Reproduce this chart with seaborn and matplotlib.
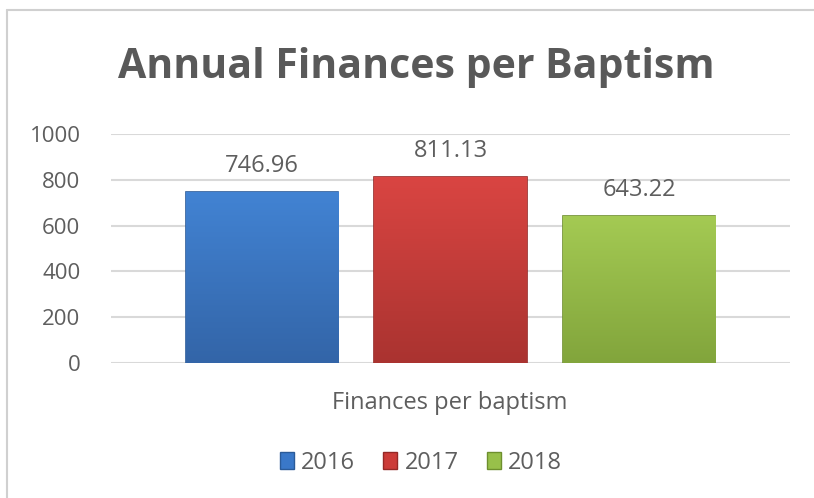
import matplotlib
matplotlib.use("Agg")
import matplotlib.pyplot as plt
import seaborn as sns
import pandas as pd
import numpy as np
from matplotlib.lines import Line2D
from matplotlib.colors import LinearSegmentedColormap

categories = ["Finances per baptism"]
years = ["2016", "2017", "2018"]
values = [746.96, 811.13, 643.22]
colors = ["#3A78C9", "#CC3B38", "#98C04A"]
top_colors = ["#4283D3", "#D94542", "#A4CA53"]
bottom_colors = ["#3365A8", "#AA3330", "#82A53C"]
edge_colors = ["#2B5B99", "#952826", "#6E8F2E"]
yticks = [0, 200, 400, 600, 800, 1000]

df = pd.DataFrame({"category": categories * len(years), "year": years, "value": values})

sns.set_theme(style="white")
plt.rcParams["font.family"] = ["Open Sans", "DejaVu Sans"]
grey = "#5E5E5E"

fig = plt.figure(figsize=(8.14, 4.98), dpi=100)
ax = fig.add_axes([111/814, 1-363/498, (790-111)/814, (363-134)/498])

sns.barplot(data=df, x="category", y="value", hue="year", palette=colors,
            width=0.833, gap=0.19, ax=ax, legend=True, saturation=1)

grad = np.linspace(1, 0, 100).reshape(-1, 1)
for p, ec, tc, bc in zip(ax.patches, edge_colors, top_colors, bottom_colors):
    p.set_edgecolor(ec)
    p.set_linewidth(1.2)
    x0, y0 = p.get_x(), p.get_y()
    w, h = p.get_width(), p.get_height()
    cmap = LinearSegmentedColormap.from_list("g", [bc, tc])
    im = ax.imshow(grad, extent=(x0, x0 + w, y0, y0 + h), cmap=cmap,
                   aspect="auto", zorder=p.get_zorder() + 0.1, origin="upper",
                   vmin=0, vmax=1)
    im.set_clip_path(p)

for cont in ax.containers:
    ax.bar_label(cont, labels=[f"{v:.2f}" for v in cont.datavalues], padding=10,
                 fontsize=17, color=grey)

ax.set_ylim(0, 1000)
ax.set_xlim(-0.5, 0.5)
ax.set_yticks(yticks)
ax.set_yticklabels([str(t) for t in yticks], fontsize=16, color=grey)
ax.tick_params(axis="y", length=0, pad=22)
ax.tick_params(axis="x", length=0)
ax.set_xticklabels([])
ax.set_xlabel("")
ax.set_ylabel("")
ax.yaxis.grid(True, color="#D9D9D9", linewidth=1.5)
ax.set_axisbelow(True)
for s in ax.spines.values():
    s.set_visible(False)

fig.text(450/814, 1-403/498, "Finances per baptism", ha="center", va="center",
         fontsize=17, color=grey)
fig.text(416/814, 1-68/498, "Annual Finances per Baptism", ha="center", va="center",
         fontsize=29.5, fontweight="bold", color="#595959")

leg = ax.legend(loc="center", bbox_to_anchor=(421/814, 1-463/498),
                bbox_transform=fig.transFigure, ncol=3, frameon=False,
                fontsize=17, handlelength=0.6, handleheight=0.75,
                handletextpad=0.3, columnspacing=1.2)
for t in leg.get_texts():
    t.set_color(grey)
for h, ec in zip(leg.legend_handles, edge_colors):
    h.set_edgecolor(ec)

fig.add_artist(Line2D([7/814, 7/814], [0, 1-10/498], transform=fig.transFigure,
                      color="#D0D0D0", linewidth=1.5))
fig.add_artist(Line2D([7/814, 1], [1-10/498, 1-10/498], transform=fig.transFigure,
                      color="#D0D0D0", linewidth=1.5))

fig.savefig("out.png", dpi=100)
